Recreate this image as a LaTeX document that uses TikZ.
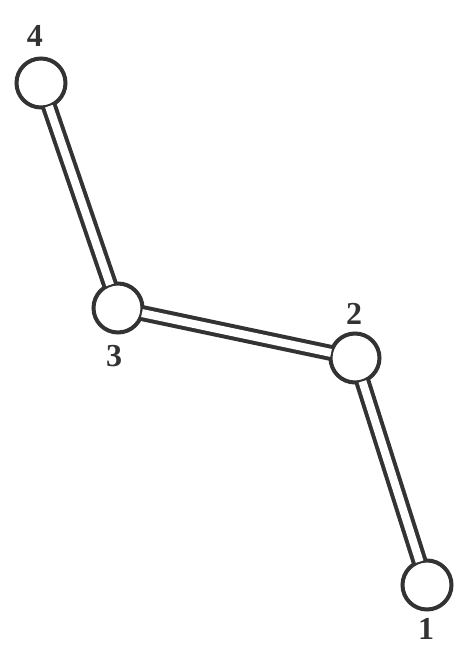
\documentclass[tikz,border=0pt]{standalone}
\usepackage{fontspec}
\setmainfont{Liberation Serif}
\definecolor{ink}{HTML}{333333}
\begin{document}
\begin{tikzpicture}[x=1pt,y=-1pt,
  joint/.style={circle,draw=ink,line width=4pt,minimum size=49pt,inner sep=0pt,outer sep=0pt,fill=white},
  bar/.style={draw=ink,line width=4pt,double=white,double distance=8pt},
  lab/.style={text=ink,font=\fontsize{32}{32}\selectfont\bfseries,inner sep=0pt}]
\useasboundingbox (0,0) rectangle (456,648);
\node[joint] (n4) at (41,83) {};
\node[joint] (n3) at (118,308) {};
\node[joint] (n2) at (355,358) {};
\node[joint] (n1) at (427,585) {};
\draw[bar] (n4) -- (n3);
\draw[bar] (n3) -- (n2);
\draw[bar] (n2) -- (n1);
\node[lab] (l4) at (35,36) {4};
\node[lab] (l3) at (114,356) {3};
\node[lab] (l2) at (354,314) {2};
\node[lab] (l1) at (426,629) {1};
\end{tikzpicture}
\end{document}
